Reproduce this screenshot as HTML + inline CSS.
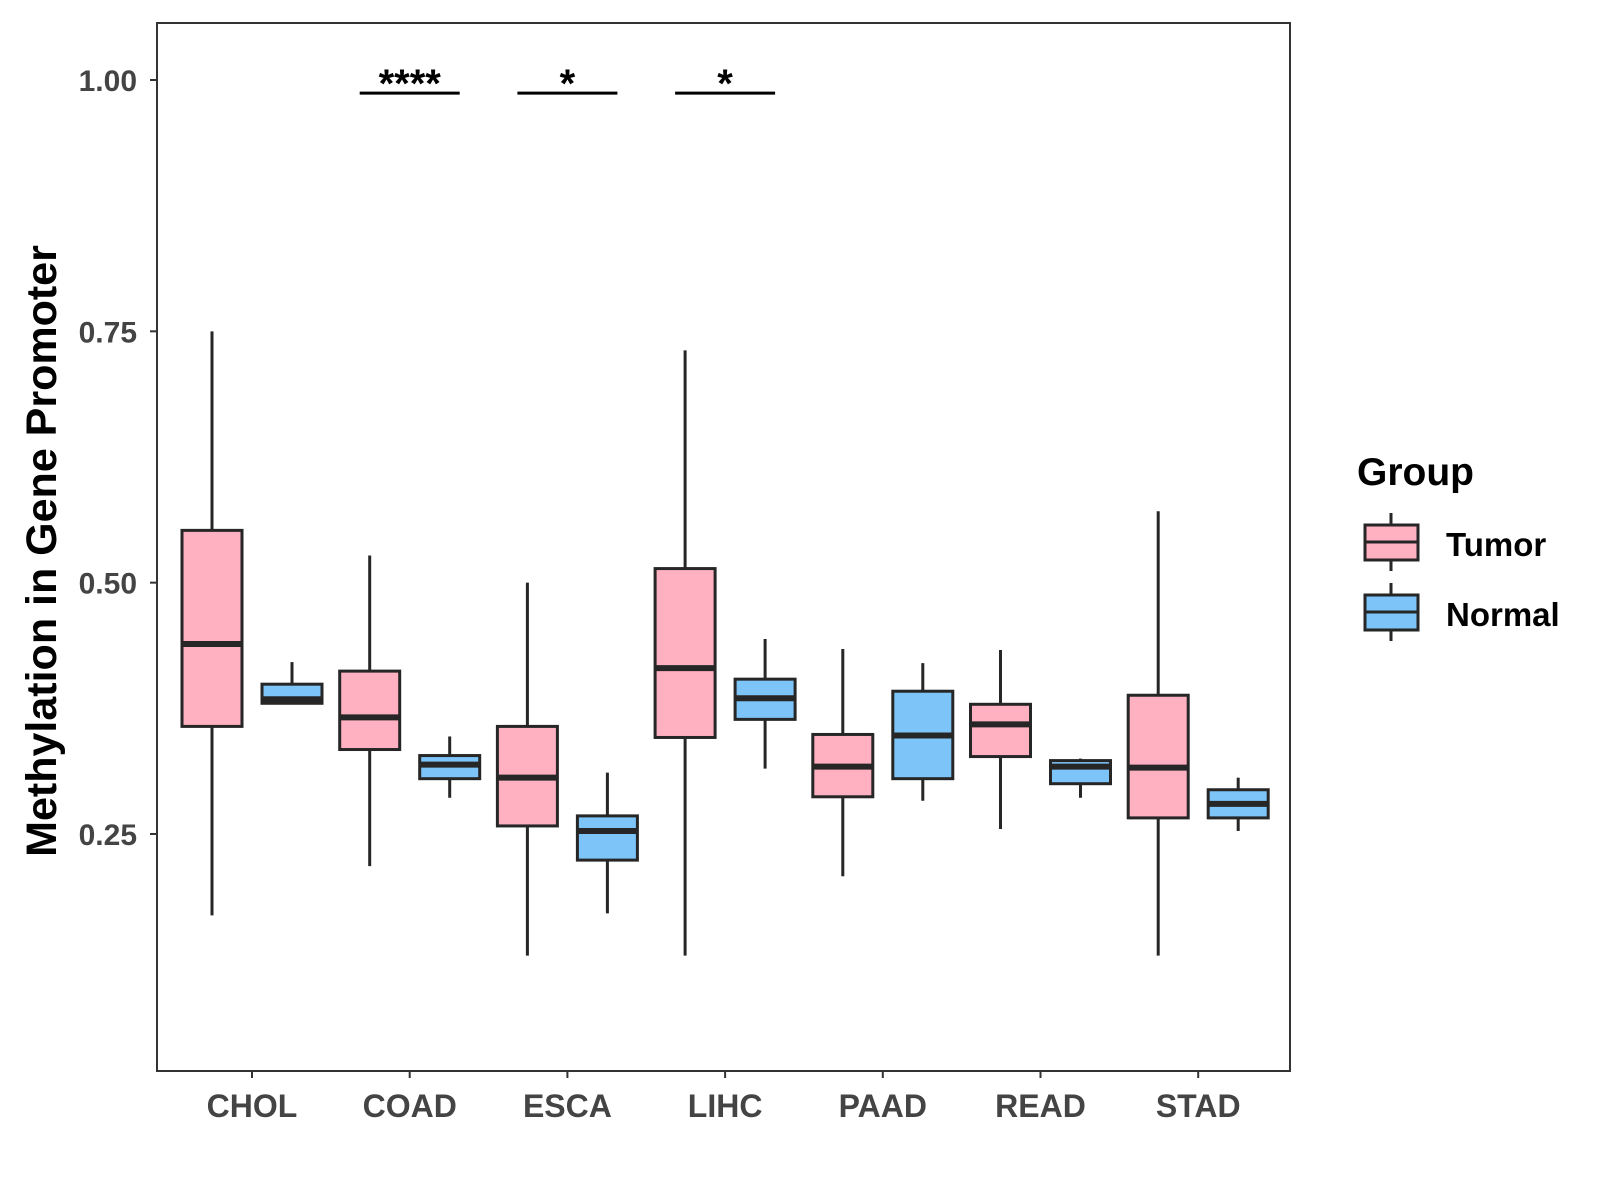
<!DOCTYPE html>
<html><head><meta charset="utf-8"><style>
body{margin:0;background:#fff}
svg{display:block;font-family:"Liberation Sans",Arial,sans-serif;font-weight:bold}
</style></head><body>
<svg id="chart" width="1600" height="1200" viewBox="0 0 1600 1200">
<rect x="157" y="23" width="1133" height="1048" fill="#fff" stroke="#333" stroke-width="2"/>
<g id="ticks"></g>
<g id="boxes"></g>
<g id="sig"></g>
<text transform="translate(56,551) rotate(-90)" text-anchor="middle" font-size="43" fill="#000">Methylation in Gene Promoter</text>
<g>
<text x="1357" y="485" font-size="39" fill="#000">Group</text>
<g>
<line x1="1391" y1="513" x2="1391" y2="571" stroke="#262626" stroke-width="3"/>
<rect x="1365" y="525" width="53" height="35" fill="#FFB0C1" stroke="#262626" stroke-width="3"/>
<line x1="1365" y1="542" x2="1418" y2="542" stroke="#262626" stroke-width="3"/>
<text x="1446" y="556" font-size="33" fill="#000">Tumor</text>
</g>
<g>
<line x1="1391" y1="583" x2="1391" y2="641" stroke="#262626" stroke-width="3"/>
<rect x="1365" y="595" width="53" height="35" fill="#7DC4F8" stroke="#262626" stroke-width="3"/>
<line x1="1365" y1="612" x2="1418" y2="612" stroke="#262626" stroke-width="3"/>
<text x="1446" y="626" font-size="33" fill="#000">Normal</text>
</g>
</g>
</svg>
<script>
const categories=["CHOL","COAD","ESCA","LIHC","PAAD","READ","STAD"];
const tumorLow=[0.169,0.218,0.129,0.129,0.208,0.255,0.129];
const tumorQ1=[0.357,0.334,0.258,0.346,0.287,0.327,0.266];
const tumorMed=[0.439,0.366,0.306,0.415,0.317,0.359,0.316];
const tumorQ3=[0.552,0.412,0.357,0.514,0.349,0.379,0.388];
const tumorHigh=[0.750,0.527,0.500,0.731,0.434,0.433,0.571];
const normalLow=[0.380,0.286,0.171,0.315,0.283,0.286,0.253];
const normalQ1=[0.380,0.305,0.224,0.364,0.305,0.300,0.266];
const normalMed=[0.384,0.319,0.253,0.385,0.348,0.317,0.280];
const normalQ3=[0.399,0.328,0.268,0.404,0.392,0.323,0.294];
const normalHigh=[0.421,0.347,0.311,0.444,0.420,0.325,0.306];
const yTicks=[0.25,0.50,0.75,1.00];
const yTickLabels=["0.25","0.50","0.75","1.00"];
const sigCats=["COAD","ESCA","LIHC"];
const sigLabels=["****","*","*"];
const sigLevel=[0.987,0.987,0.987];

const NS="http://www.w3.org/2000/svg";
function y(v){return 80+(1-v)*1005.3;}
function x(c){return 252+categories.indexOf(c)*157.7;}
function mk(tag,attrs,parent,txt){const e=document.createElementNS(NS,tag);for(const k in attrs)e.setAttribute(k,attrs[k]);if(txt!==undefined)e.textContent=txt;parent.appendChild(e);return e;}
const ticks=document.getElementById('ticks');
yTicks.forEach((t,i)=>{
 const l=mk('line',{x1:150,x2:157,y1:y(t),y2:y(t),stroke:'#333','stroke-width':2},ticks);
 
 
 const tx=mk('text',{x:137,y:y(t)+11,'text-anchor':'end','font-size':30,fill:'#444'},ticks,yTickLabels[i]);
 
 
});
categories.forEach(c=>{
 const l=mk('line',{x1:x(c),x2:x(c),y1:1071,y2:1078,stroke:'#333','stroke-width':2},ticks);
 
 
 const tx=mk('text',{x:x(c),y:1117,'text-anchor':'middle','font-size':32,fill:'#444'},ticks,c);
 
 
});
const boxes=document.getElementById('boxes');
function box(cx,lo,q1,md,q3,hi,fill,name){
 const g=mk('g',{},boxes);
 
 
 const st={stroke:'#262626','stroke-width':3};
 mk('line',Object.assign({x1:cx,x2:cx,y1:y(hi),y2:y(lo)},st),g);
 mk('rect',Object.assign({x:cx-30,y:y(q3),width:60,height:y(q1)-y(q3),fill:fill},st),g);
 mk('line',{x1:cx-30,x2:cx+30,y1:y(md),y2:y(md),stroke:'#262626','stroke-width':6},g);
}
categories.forEach((c,i)=>{
 box(x(c)-40,tumorLow[i],tumorQ1[i],tumorMed[i],tumorQ3[i],tumorHigh[i],'#FFB0C1','box-tumor-'+c.toLowerCase());
 box(x(c)+40,normalLow[i],normalQ1[i],normalMed[i],normalQ3[i],normalHigh[i],'#7DC4F8','box-normal-'+c.toLowerCase());
});
const sig=document.getElementById('sig');
sigCats.forEach((c,i)=>{
 const g=mk('g',{},sig);
 
 
 mk('line',{x1:x(c)-50,x2:x(c)+50,y1:y(sigLevel[i]),y2:y(sigLevel[i]),stroke:'#000','stroke-width':3},g);
 mk('text',{x:x(c),y:y(sigLevel[i])+4,'text-anchor':'middle','font-size':40,fill:'#000'},g,sigLabels[i]);
});
</script>
</body></html>
